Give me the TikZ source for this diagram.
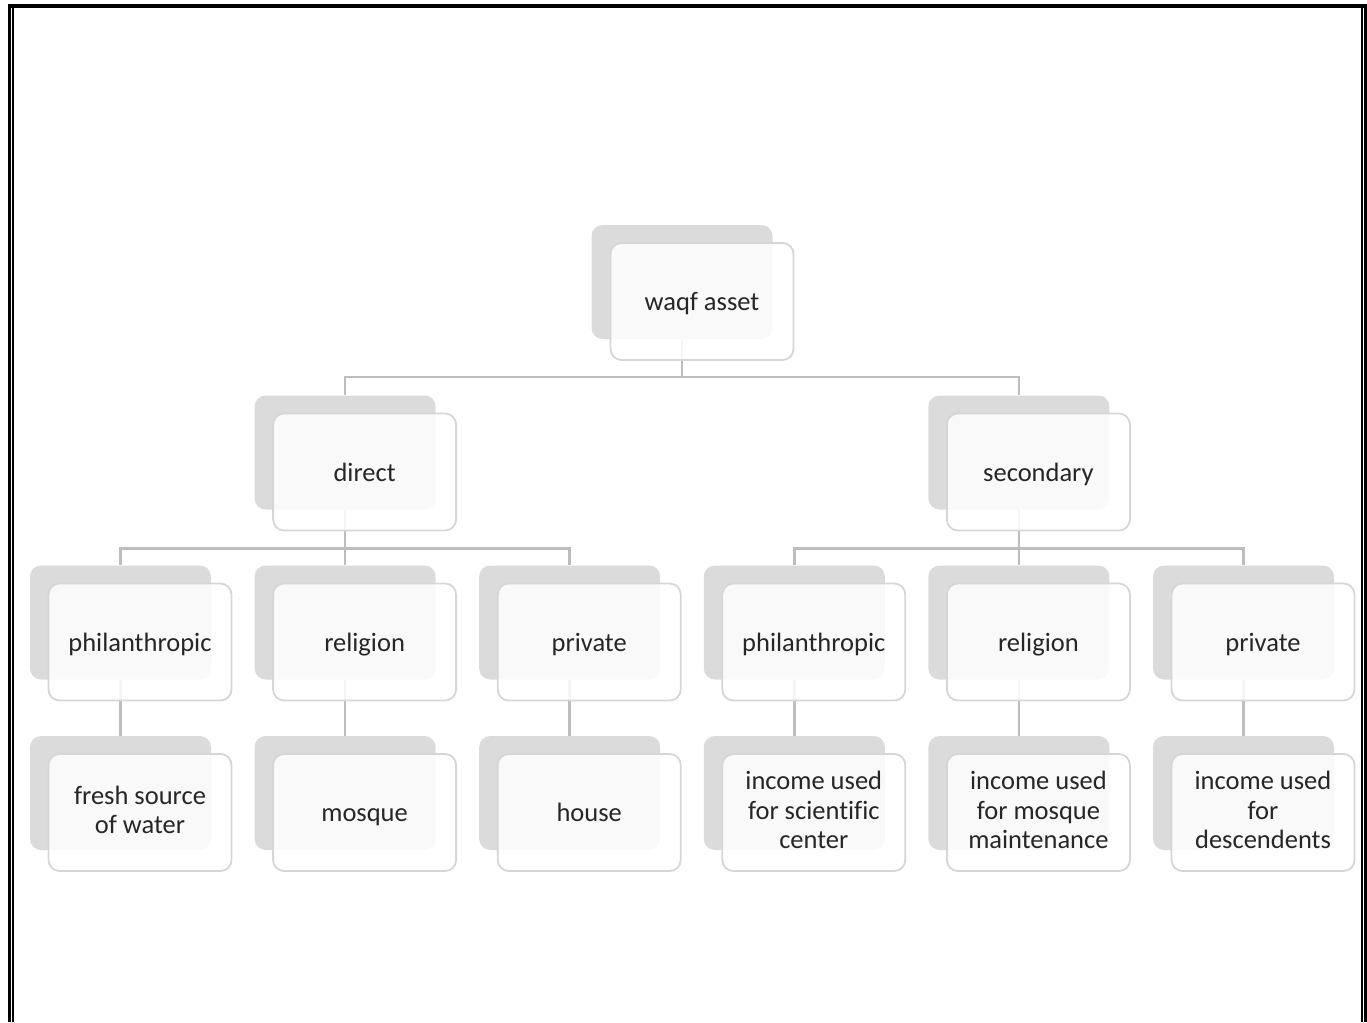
\documentclass[tikz,border=0pt]{standalone}
\usepackage{fontspec}
\setmainfont[Ligatures=NoCommon]{Carlito}
\definecolor{backgray}{HTML}{DBDBDB}
\definecolor{cardline}{HTML}{D6D6D6}
\definecolor{linkgray}{HTML}{BDBDBD}
\definecolor{txt}{HTML}{262626}
% invisible rule fixing the height of the first line and depth of the last one
\newcommand\cardstrut{\rule[-5.2pt]{0pt}{29.2pt}}
\begin{document}
\begin{tikzpicture}[x=1pt,y=-1pt,
  back/.style={fill=backgray, rounded corners=11pt, minimum width=181pt,
    minimum height=114pt, inner sep=0pt},
  card/.style={fill=white, fill opacity=0.86, text opacity=1, draw=cardline,
    line width=1.8pt, rounded corners=11pt, minimum width=183pt,
    minimum height=117pt, inner sep=0pt, align=center, text=txt,
    font=\fontsize{26.5}{29.5}\selectfont,
    execute at begin node=\cardstrut, execute at end node=\cardstrut},
  link/.style={draw=linkgray, line width=2.5pt},
  frame/.style={draw=black}
]
\useasboundingbox (0,0) rectangle (1367,1022);

% page frame (double rule on the sides, heavy rule on top)
\draw[frame, line width=4pt] (8,6.5) -- (1367,6.5);
\draw[frame, line width=3.5pt] (9.5,4.5) -- (9.5,1022);
\draw[frame, line width=1.6pt] (12.8,8) -- (12.8,1022);
\draw[frame, line width=1.8pt] (1362,8) -- (1362,1022);
\draw[frame, line width=3pt] (1365.5,4.5) -- (1365.5,1022);

% shadow tiles behind each card
\node[back] (root-bk) at (682,282) {};
\node[back] (dir-bk)  at (345.1,452.5) {};
\node[back] (sec-bk)  at (1018.9,452.5) {};
\node[back] (dp-bk)   at (120.5,622.5) {};
\node[back] (dr-bk)   at (345.1,622.5) {};
\node[back] (dv-bk)   at (569.7,622.5) {};
\node[back] (sp-bk)   at (794.3,622.5) {};
\node[back] (sr-bk)   at (1018.9,622.5) {};
\node[back] (sv-bk)   at (1243.5,622.5) {};
\node[back] (dpx-bk)  at (120.5,793) {};
\node[back] (drx-bk)  at (345.1,793) {};
\node[back] (dvx-bk)  at (569.7,793) {};
\node[back] (spx-bk)  at (794.3,793) {};
\node[back] (srx-bk)  at (1018.9,793) {};
\node[back] (svx-bk)  at (1243.5,793) {};

% tree connectors
\draw[link] (root-bk.south) -- ++(0,38) -| (dir-bk.north);
\draw[link] (root-bk.south) -- ++(0,38) -| (sec-bk.north);
\foreach \c in {dp,dr,dv}
  \draw[link] (dir-bk.south) -- ++(0,39) -| (\c-bk.north);
\foreach \c in {sp,sr,sv}
  \draw[link] (sec-bk.south) -- ++(0,39) -| (\c-bk.north);
\foreach \c in {dp,dr,dv,sp,sr,sv}
  \draw[link] (\c-bk.south) -- (\c x-bk.north);

% cards
\node[card] (root) at (702,301.5) {waqf asset};
\node[card] (dir)  at (364.6,472) {direct};
\node[card] (sec)  at (1038.4,472) {secondary};
\node[card] (dp)   at (140,642) {philanthropic};
\node[card] (dr)   at (364.6,642) {religion};
\node[card] (dv)   at (589.2,642) {private};
\node[card] (sp)   at (813.8,642) {philanthropic};
\node[card] (sr)   at (1038.4,642) {religion};
\node[card] (sv)   at (1263,642) {private};
\node[card] (dpx)  at (140,812.5) {fresh source\\of water};
\node[card] (drx)  at (364.6,812.5) {mosque};
\node[card] (dvx)  at (589.2,812.5) {house};
\node[card] (spx)  at (813.8,812.5) {income used\\for scientific\\center};
\node[card] (srx)  at (1038.4,812.5) {income used\\for mosque\\maintenance};
\node[card] (svx)  at (1263,812.5) {income used\\for\\descendents};
\end{tikzpicture}
\end{document}
